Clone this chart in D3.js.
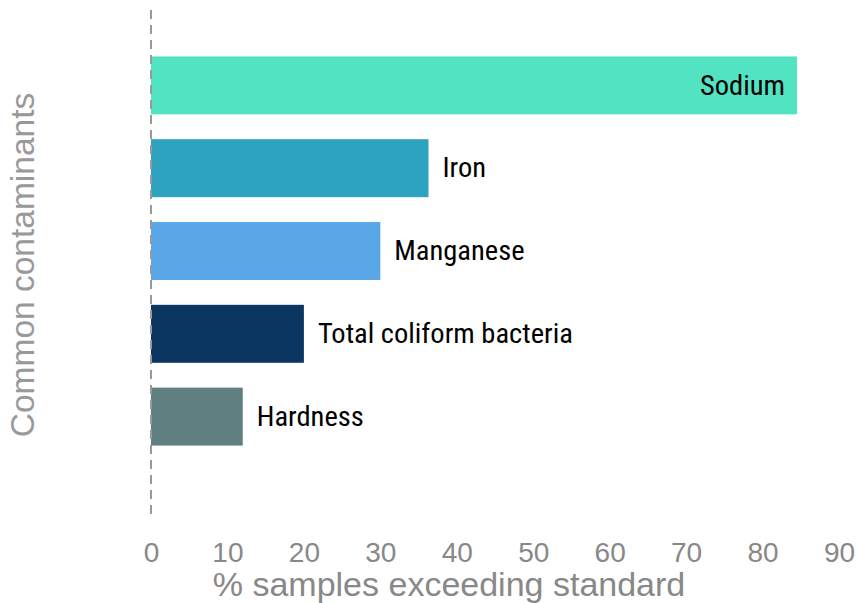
<!DOCTYPE html>
<html>
<head>
<meta charset="utf-8">
<script src="https://cdn.jsdelivr.net/npm/d3@7"></script>
<style>
  body { margin: 0; background: #fff; }
  .tick text { font-family: "Liberation Sans", Arial, sans-serif; }
</style>
</head>
<body>
<div id="chart"></div>
<script>
// data
const contaminants = ['Sodium', 'Iron', 'Manganese', 'Total coliform bacteria', 'Hardness'];
const pctExceeding = [84.5, 36.3, 30, 20, 12];
const barColors = ['#52e3c2', '#2ea3bf', '#5aa7e8', '#0b3660', '#607f80'];
const xTicks = [0, 10, 20, 30, 40, 50, 60, 70, 80, 90];

const width = 861, height = 603;

const svg = d3.select('#chart').append('svg')
    .attr('width', width)
    .attr('height', height);

const x = d3.scaleLinear().domain([0, 90]).range([151, 839]);
const y = d3.scaleBand()
    .domain(contaminants)
    .range([44, 458])
    .paddingInner(0.3)
    .paddingOuter(0.15);

const rows = contaminants.map((name, i) => ({ name: name, value: pctExceeding[i], color: barColors[i] }));

// bars
svg.append('g').selectAll('rect')
    .data(rows)
    .join('rect')
    .attr('x', x(0))
    .attr('y', d => y(d.name))
    .attr('width', d => x(d.value) - x(0))
    .attr('height', y.bandwidth())
    .attr('fill', d => d.color);

// dashed zero line on top of the bars
svg.append('line')
    .attr('x1', x(0)).attr('x2', x(0))
    .attr('y1', 10).attr('y2', 520)
    .attr('stroke', '#999')
    .attr('stroke-width', 2)
    .attr('stroke-dasharray', '9,6');

// bar labels, inside for the long bar, outside for the rest
svg.append('g').selectAll('text')
    .data(rows)
    .join('text')
    .attr('x', d => d.value > 60 ? x(d.value) - 12 : x(d.value) + 14)
    .attr('y', d => y(d.name) + y.bandwidth() / 2)
    .attr('dy', '0.32em')
    .attr('text-anchor', d => d.value > 60 ? 'end' : 'start')
    .style('font-family', '"Liberation Sans Narrow", "Roboto Condensed", "DejaVu Sans Condensed", sans-serif')
    .style('font-size', '28.5px')
    .attr('fill', '#000')
    .text(d => d.name);

// x axis, labels only
const xAxis = svg.append('g')
    .attr('transform', 'translate(0,532)')
    .call(d3.axisBottom(x).tickValues(xTicks).tickSize(0).tickPadding(0));
xAxis.select('.domain').remove();
xAxis.selectAll('text')
    .attr('dy', 0)
    .attr('y', 30)
    .attr('fill', '#888')
    .style('font-size', '28px');

// axis titles
svg.append('text')
    .attr('x', 449)
    .attr('y', 596)
    .attr('text-anchor', 'middle')
    .style('font-family', '"Liberation Sans", Arial, sans-serif')
    .style('font-size', '34px')
    .attr('fill', '#888')
    .text('% samples exceeding standard');

svg.append('text')
    .attr('transform', 'translate(34,265) rotate(-90)')
    .attr('text-anchor', 'middle')
    .style('font-family', '"Liberation Sans", Arial, sans-serif')
    .style('font-size', '33.5px')
    .attr('fill', '#999')
    .text('Common contaminants');
</script>
</body>
</html>
